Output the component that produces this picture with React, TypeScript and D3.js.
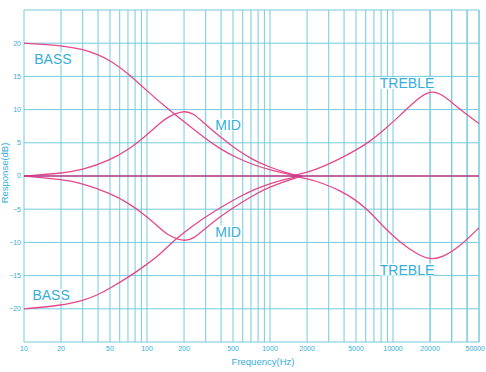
import React from "react";
import * as d3 from "d3";

// tone control response, dB vs Hz
const freqTicks = [10, 20, 50, 100, 200, 500, 1000, 2000, 5000, 10000, 20000, 50000];
const dbTicks = [20, 15, 10, 5, 0, -5, -10, -15, -20];

const bassBoostHz = [10, 20, 30, 40, 50, 70, 100, 150, 200, 300, 400, 540, 730, 1000, 1450, 1800];
const bassBoostDb = [20, 19.7, 19.1, 18.3, 17.4, 15.5, 12.8, 10.0, 8.2, 5.6, 4.0, 2.7, 1.7, 0.9, 0.2, 0];

const bassCutHz = [10, 20, 30, 40, 50, 70, 100, 128, 153, 200, 285, 392, 540, 730, 1000, 1450, 1800];
const bassCutDb = [-20, -19.5, -18.8, -17.9, -16.9, -15.3, -13.3, -11.8, -10.3, -8.5, -6.4, -4.8, -3.3, -2.1, -1.1, -0.3, 0];

const midBoostHz = [10, 20, 30, 50, 70, 100, 128, 150, 200, 240, 285, 392, 540, 730, 1000, 1450, 1700];
const midBoostDb = [0, 0.4, 0.9, 2.4, 3.9, 6.2, 8.0, 9.0, 9.9, 9.4, 8.1, 5.9, 3.9, 2.4, 1.3, 0.3, 0];

const midCutHz = [10, 20, 30, 50, 70, 100, 128, 150, 200, 240, 285, 392, 540, 730, 1000, 1450, 1800];
const midCutDb = [0, -0.5, -1.1, -2.6, -4.0, -6.1, -7.9, -9.0, -9.9, -9.4, -8.2, -6.1, -4.4, -2.9, -1.6, -0.6, 0];

const trebleBoostHz = [1500, 2000, 2700, 3700, 5000, 6500, 8300, 11400, 15700, 20000, 25000, 35000, 50000];
const trebleBoostDb = [0, 0.5, 1.4, 2.6, 3.9, 5.2, 6.8, 9.1, 11.6, 12.9, 12.4, 10.0, 7.9];

const trebleCutHz = [1500, 2000, 2700, 3700, 5000, 6500, 8300, 11400, 15700, 20000, 25000, 35000, 50000];
const trebleCutDb = [0, -0.4, -1.1, -2.2, -3.6, -5.4, -7.6, -10.0, -11.8, -12.6, -12.3, -10.6, -7.8];

const series = [
  [bassBoostHz, bassBoostDb],
  [bassCutHz, bassCutDb],
  [midBoostHz, midBoostDb],
  [midCutHz, midCutDb],
  [trebleBoostHz, trebleBoostDb],
  [trebleCutHz, trebleCutDb],
];

const labels = [
  { text: "BASS", hz: 17.2, db: 17.7 },
  { text: "BASS", hz: 16.6, db: -17.9 },
  { text: "MID", hz: 456, db: 7.7 },
  { text: "MID", hz: 456, db: -8.4 },
  { text: "TREBLE", hz: 13000, db: 14.0 },
  { text: "TREBLE", hz: 13000, db: -14.1 },
];

const W = 486;
const H = 372;
const grid = "#5cc3d6";
const cyan = "#35aedb";
const pink = "#e6478a";

export default function App() {
  const x = d3.scaleLog().domain([10, 50000]).range([24, 479]);
  const y = d3.scaleLinear().domain([-25, 25]).range([342, 10]);

  const minor: number[] = [];
  for (let dec = 10; dec <= 10000; dec *= 10) {
    for (let m = 1; m <= 9; m++) minor.push(dec * m);
  }
  minor.push(20000, 30000, 40000, 50000);

  const hLines = d3.range(-25, 26, 5);

  const line = d3
    .line<[number, number]>()
    .x((d) => x(d[0]))
    .y((d) => y(d[1]))
    .curve(d3.curveBasis);

  return (
    <div style={{ position: "fixed", left: 0, top: 0 }}>
      <svg width={W} height={H} style={{ display: "block", background: "#fff" }}>
        <g stroke={grid} strokeWidth={1} opacity={0.85}>
          {minor.map((f) => (
            <line key={"v" + f} x1={x(f)} x2={x(f)} y1={y(25)} y2={y(-25)} />
          ))}
          {hLines.map((v) => (
            <line key={"h" + v} x1={x(10)} x2={x(50000)} y1={y(v)} y2={y(v)} />
          ))}
        </g>

        <g fontFamily="Liberation Sans, Arial, sans-serif" fill={cyan}>
          {labels.map((l, i) => {
            const w = l.text.length * 8.6;
            return (
              <g key={i}>
                <rect x={x(l.hz) - w / 2 - 1} y={y(l.db) - 6} width={w + 2} height={12} fill="#fff" />
                <text x={x(l.hz)} y={y(l.db)} dy="0.36em" textAnchor="middle" fontSize={14}>
                  {l.text}
                </text>
              </g>
            );
          })}
        </g>

        {series.map(([hz, db], i) => (
          <path
            key={i}
            d={line(hz.map((f, j) => [f, db[j]] as [number, number])) || ""}
            fill="none"
            stroke={pink}
            strokeWidth={1.3}
          />
        ))}
        <line x1={x(10)} x2={x(50000)} y1={y(0)} y2={y(0)} stroke="#c13a88" strokeWidth={1.6} />

        <g fontFamily="Liberation Sans, Arial, sans-serif" fill={cyan} fontSize={7}>
          {dbTicks.map((v) => (
            <text key={v} x={21} y={y(v)} dy="0.35em" textAnchor="end">
              {v === 0 ? "0" : String(v).replace("-", "\u2212")}
            </text>
          ))}
          {freqTicks.map((f) => (
            <text
              key={f}
              x={f === 50000 ? 485 : x(f)}
              y={351}
              textAnchor={f === 50000 ? "end" : "middle"}
            >
              {f}
            </text>
          ))}
          <text x={263} y={365} textAnchor="middle" fontSize={9.5}>
            Frequency(Hz)
          </text>
          <text transform="translate(8,173) rotate(-90)" textAnchor="middle" fontSize={9.5}>
            Response(dB)
          </text>
        </g>
      </svg>
    </div>
  );
}
